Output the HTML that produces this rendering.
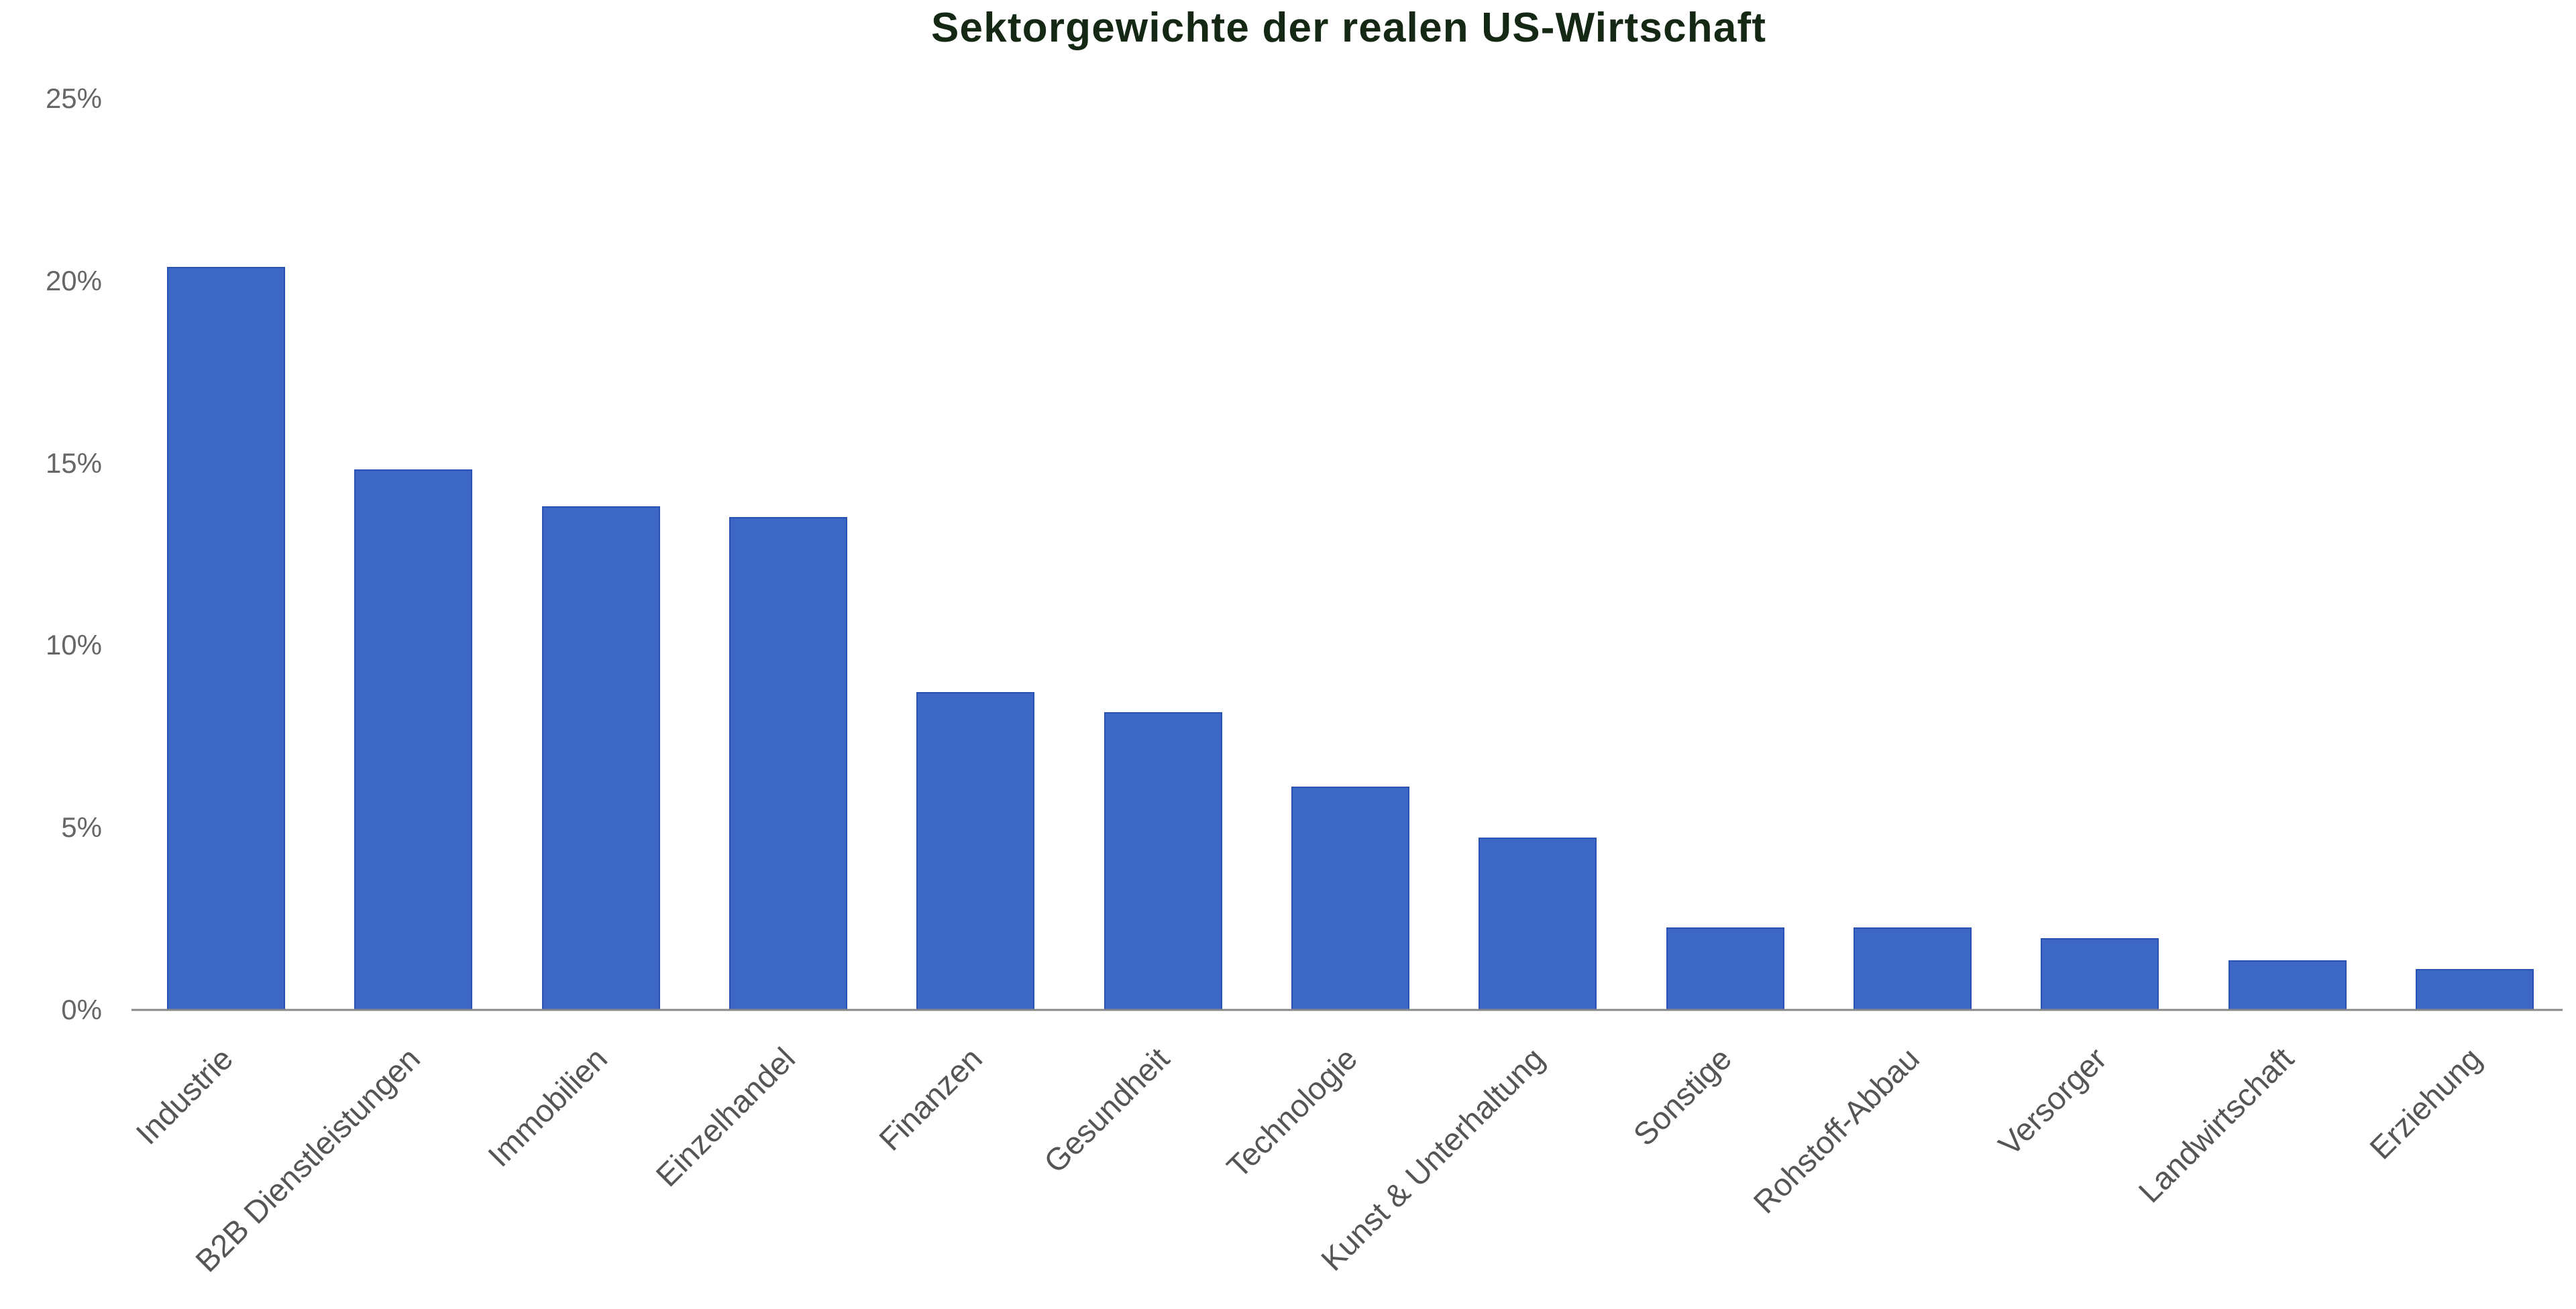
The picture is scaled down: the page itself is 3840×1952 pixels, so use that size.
<!DOCTYPE html>
<html><head><meta charset="utf-8"><style>
html,body{margin:0;padding:0;background:#fff;}
svg{display:block;}
</style></head><body>
<svg width="3840" height="1952" viewBox="0 0 3840 1952" xmlns="http://www.w3.org/2000/svg" font-family="'Liberation Sans', 'DejaVu Sans', sans-serif">
<text x="2010" y="62" text-anchor="middle" font-size="62" font-weight="bold" fill="#142814" textLength="1244">Sektorgewichte der realen US-Wirtschaft</text>
<g font-size="42" fill="#666" text-anchor="end">
<text x="152" y="161">25%</text>
<text x="152" y="433">20%</text>
<text x="152" y="705">15%</text>
<text x="152" y="976">10%</text>
<text x="152" y="1248">5%</text>
<text x="152" y="1520">0%</text>
</g>
<g fill="#3d67c4" stroke="#2a52b5" stroke-width="2">
<rect x="250" y="399" width="174" height="1107"/>
<rect x="529" y="701" width="174" height="805"/>
<rect x="809" y="756" width="174" height="750"/>
<rect x="1088" y="772" width="174" height="734"/>
<rect x="1367" y="1033" width="174" height="473"/>
<rect x="1647" y="1063" width="174" height="443"/>
<rect x="1926" y="1174" width="174" height="332"/>
<rect x="2205" y="1250" width="174" height="256"/>
<rect x="2485" y="1384" width="174" height="122"/>
<rect x="2764" y="1384" width="174" height="122"/>
<rect x="3043" y="1400" width="174" height="106"/>
<rect x="3323" y="1433" width="174" height="73"/>
<rect x="3602" y="1446" width="174" height="60"/>
</g>
<line x1="196" y1="1506" x2="3820" y2="1506" stroke="#888" stroke-width="3"/>
<g font-size="47" fill="#555" text-anchor="end">
<text transform="translate(350,1582) rotate(-45)">Industrie</text>
<text transform="translate(629,1582) rotate(-45)">B2B Dienstleistungen</text>
<text transform="translate(908,1582) rotate(-45)">Immobilien</text>
<text transform="translate(1188,1582) rotate(-45)">Einzelhandel</text>
<text transform="translate(1467,1582) rotate(-45)">Finanzen</text>
<text transform="translate(1746,1582) rotate(-45)">Gesundheit</text>
<text transform="translate(2026,1582) rotate(-45)">Technologie</text>
<text transform="translate(2305,1582) rotate(-45)">Kunst &amp; Unterhaltung</text>
<text transform="translate(2584,1582) rotate(-45)">Sonstige</text>
<text transform="translate(2864,1582) rotate(-45)">Rohstoff-Abbau</text>
<text transform="translate(3143,1582) rotate(-45)">Versorger</text>
<text transform="translate(3422,1582) rotate(-45)">Landwirtschaft</text>
<text transform="translate(3702,1582) rotate(-45)">Erziehung</text>
</g>
</svg>
</body></html>
